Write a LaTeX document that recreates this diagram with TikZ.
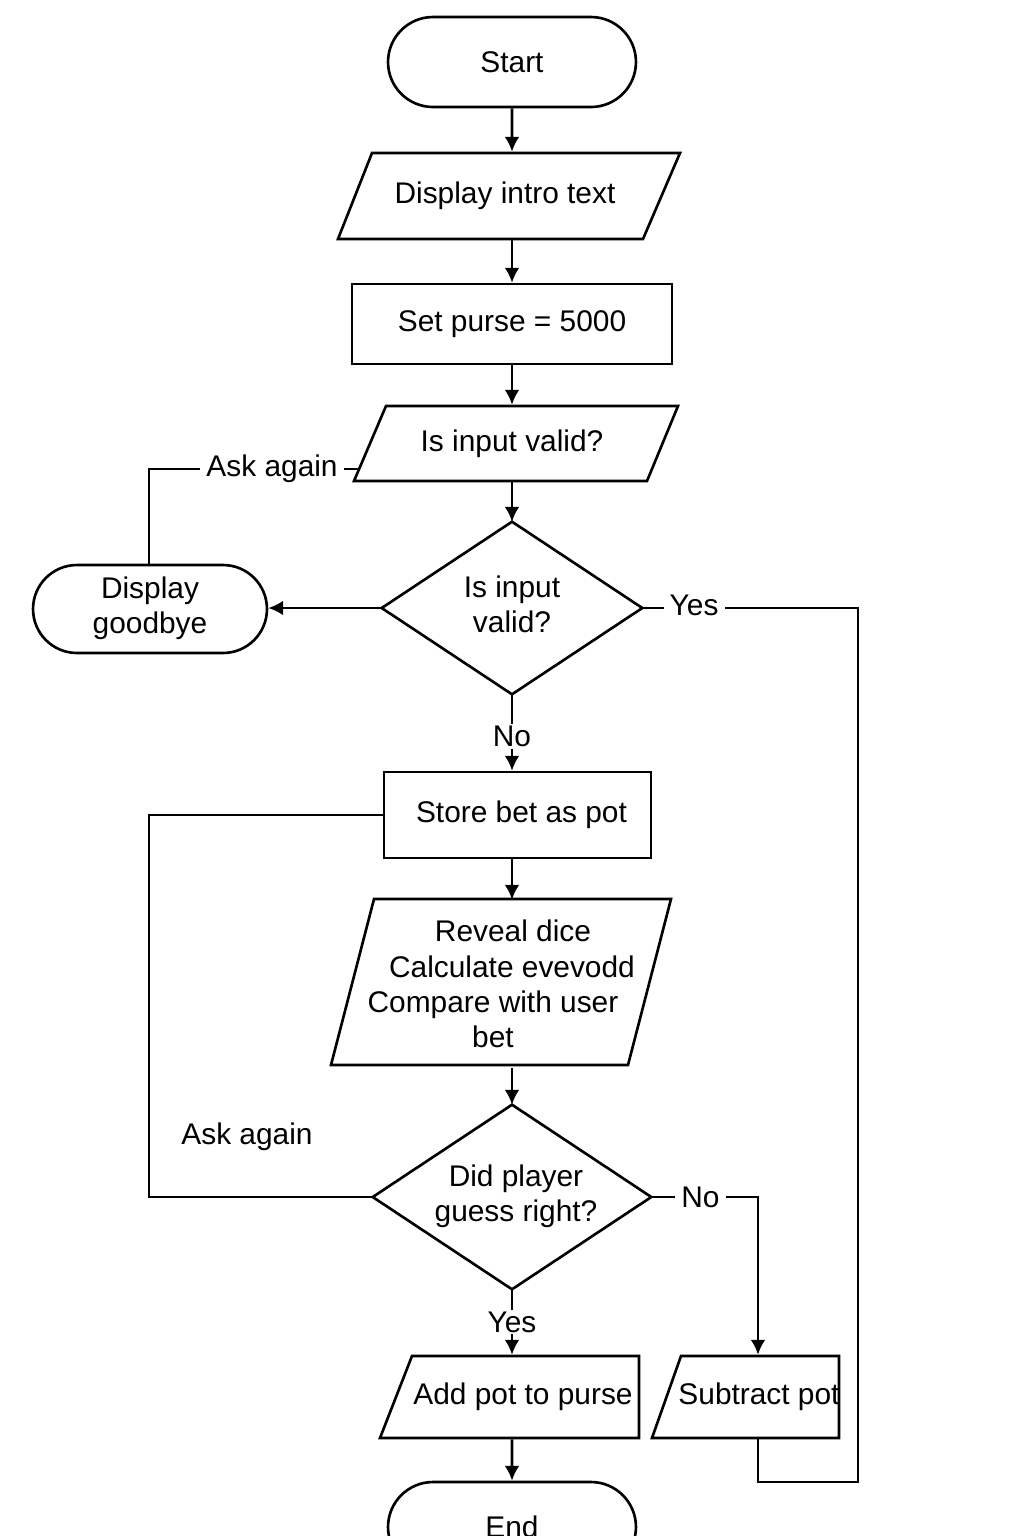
\documentclass[tikz,border=0pt]{standalone}
\usepackage{fontspec}
\setmainfont{Liberation Sans}
\usetikzlibrary{arrows.meta,shapes.misc,calc}
\begin{document}
\begin{tikzpicture}[x=0.02cm,y=-0.02cm,line width=1.5pt,
  font=\fontsize{17}{20}\selectfont,
  term/.style={rounded rectangle,draw,inner sep=0pt,minimum width=4.96cm,minimum height=1.8cm,align=center},
  proc/.style={rectangle,draw,inner sep=0pt,align=center},
  txt/.style={inner sep=0pt,align=center},
  arr/.style={-{Latex[length=8.5pt,width=8.5pt]}},
  lbl/.style={fill=white,inner xsep=3.5pt,inner ysep=1pt}]
\useasboundingbox (0,0) rectangle (1024,1536);
\clip (0,0) rectangle (1024,1536);

% shapes
\node[term] (start) at (512,62) {Start};

\draw (372,153) -- (680,153) -- (643,239) -- (338,239) -- cycle;
\node[txt,minimum height=1.72cm] (disp) at (505,196) {Display intro text};

\node[proc,minimum width=6.4cm,minimum height=1.6cm] (purse) at (512,324) {Set purse = 5000};

\draw (386,406) -- (678,406) -- (647,481) -- (354,481) -- cycle;
\node[txt,minimum height=1.5cm] (inp) at (512,443.5) {Is input valid?};

\node[txt,minimum width=5.16cm,minimum height=3.4cm] (dec1) at (512,608)
  {\raisebox{0.08cm}{\begin{tabular}{@{}c@{}}Is input\\valid?\end{tabular}}};
\draw (dec1.north) -- (dec1.east) -- (dec1.south) -- (dec1.west) -- cycle;

\node[term,minimum width=4.68cm,minimum height=1.76cm] (bye) at (150,609)
  {\raisebox{-0.12cm}{\begin{tabular}{@{}c@{}}Display\\goodbye\end{tabular}}};

\node[proc,minimum width=5.34cm,minimum height=1.72cm] (store) at (517.5,815) {\hspace*{0.16cm}Store bet as pot};

\draw (374,899) -- (671,899) -- (628,1065) -- (331,1065) -- cycle;
\node[txt,minimum height=3.32cm] (reveal) at (503,984)
  {\hspace*{0.4cm}Reveal dice\\\hspace*{0.36cm}Calculate evevodd\\Compare with user\rule{0.4cm}{0pt}\\bet\rule{0.4cm}{0pt}};

\node[txt,minimum width=5.52cm,minimum height=3.64cm] (dec2) at (512,1197)
  {\hspace*{0.16cm}\raisebox{0.2cm}{\begin{tabular}{@{}c@{}}Did player\\guess right?\end{tabular}}};
\draw (dec2.north) -- (dec2.east) -- (dec2.south) -- (dec2.west) -- cycle;

\draw (412,1356) -- (639,1356) -- (639,1438) -- (380,1438) -- cycle;
\node[txt,minimum height=1.64cm] (add) at (523,1397) {Add pot to purse};

\draw (681,1356) -- (839,1356) -- (839,1438) -- (652,1438) -- cycle;
\node[txt,minimum height=1.64cm] (sub) at (759,1397) {Subtract pot};

\node[term] (end) at (512,1527) {End};

\node[txt] (ask2) at (247,1137) {Ask again};

% helper coordinates
\coordinate (askpt) at (359,469);
\coordinate (rloop) at (858,1482);
\coordinate (noc) at (758,1197);
\coordinate (lloop) at (149,1197);

% connectors
\draw[arr] (start) -- (start |- disp.north);
\draw[arr] (purse |- disp.south) -- (purse);
\draw[arr] (purse) -- (purse |- inp.north);
\draw[arr] (dec1 |- inp.south) -- (dec1.north);
\draw (bye.north -| 149,0) |- node[lbl,pos=0.793]{Ask again} (askpt);
\draw[arr] (dec1.west) -- (dec1.west -| bye.east);
\draw[arr] (dec1.south) -- node[lbl,pos=0.55]{No} (dec1 |- store.north);
\draw (dec1.east) -- node[lbl,pos=0.24,yshift=0.05cm]{Yes} (dec1.east -| rloop) -- (rloop) -- (noc |- rloop) -- (noc |- sub.south);
\draw (store.west) -| (lloop) -- (dec2.west);
\draw[arr] (dec1 |- store.south) -- (dec1 |- reveal.north);
\draw[arr] (dec2 |- reveal.south) -- (dec2.north);
\draw[arr] (dec2.east) -- node[lbl,pos=0.46]{No} (noc) -- (noc |- sub.north);
\draw[arr] (dec2.south) -- node[lbl]{Yes} (dec2 |- add.north);
\draw[arr] (end |- add.south) -- (end);
\end{tikzpicture}
\end{document}
